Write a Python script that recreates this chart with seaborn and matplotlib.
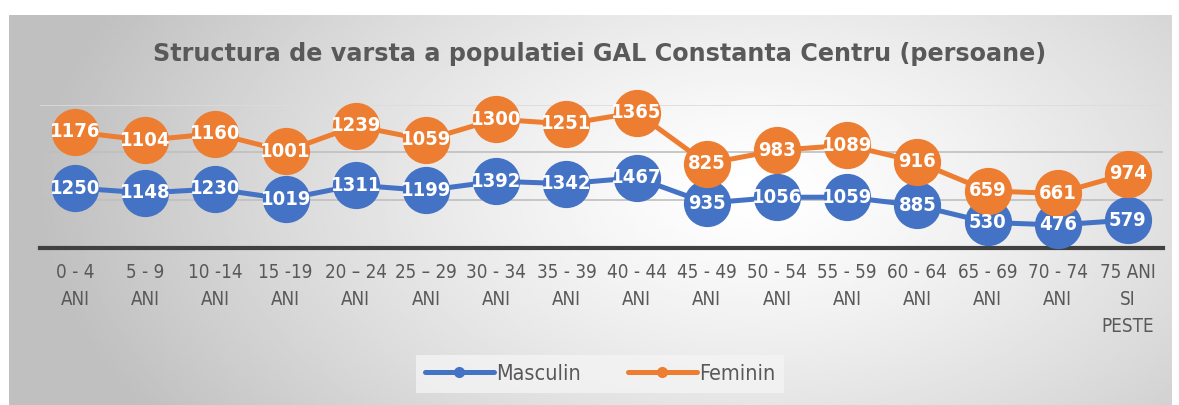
import numpy as np
import pandas as pd
import seaborn as sns
import matplotlib.pyplot as plt
from matplotlib.lines import Line2D

# ==============================
# DATA
# ==============================
age_groups = ["0 - 4\nANI", "5 - 9\nANI", "10 -14\nANI", "15 -19\nANI",
              "20 \u2013 24\nANI", "25 \u2013 29\nANI", "30 - 34\nANI",
              "35 - 39\nANI", "40 - 44\nANI", "45 - 49\nANI", "50 - 54\nANI",
              "55 - 59\nANI", "60 - 64\nANI", "65 - 69\nANI", "70 - 74\nANI",
              "75 ANI\nSI\nPESTE"]
masculin = [1250, 1148, 1230, 1019, 1311, 1199, 1392, 1342, 1467,
            935, 1056, 1059, 885, 530, 476, 579]
feminin = [1176, 1104, 1160, 1001, 1239, 1059, 1300, 1251, 1365,
           825, 983, 1089, 916, 659, 661, 974]

BLUE = "#4472C4"
ORANGE = "#ED7D31"
GREY_TXT = "#595959"

# stacked line chart: feminin drawn on top of masculin
df = pd.DataFrame({"pos": np.arange(len(age_groups)),
                   "Masculin": masculin,
                   "Feminin": feminin})
df["Feminin_stack"] = df["Masculin"] + df["Feminin"]

sns.set_style("white")
plt.rcParams["font.family"] = ["DejaVu Sans"]

fig = plt.figure(figsize=(11.79, 4.05), dpi=100)

# ==============================
# background: radial gradient
# ==============================
bg = fig.add_axes([9 / 1179, 0, (1172 - 9) / 1179, 390 / 405], zorder=0)
gx, gy = np.meshgrid(np.linspace(0, 1, 400), np.linspace(0, 1, 140))
r = np.sqrt(((gx - 0.64) / 0.62) ** 2 + ((gy - 0.55) / 1.1) ** 2)
shade = 1.0 - 0.25 * np.clip(r, 0, 1) ** 1.3
bg.imshow(shade, cmap="gray", vmin=0, vmax=1, aspect="auto",
          extent=[0, 1, 0, 1], origin="lower")
bg.axis("off")

# ==============================
# main chart
# ==============================
ax = fig.add_axes([40 / 1179, 1 - 247.7 / 405, 1123 / 1179, 143.2 / 405], zorder=2)
ax.patch.set_alpha(0)

for ycol, lab, col in [("Masculin", "Masculin", BLUE),
                       ("Feminin_stack", "Feminin", ORANGE)]:
    sns.lineplot(data=df, x="pos", y=ycol, ax=ax, color=col, linewidth=3.6,
                 marker="o", markersize=34, markeredgewidth=0, label=lab,
                 legend=False, clip_on=False, zorder=3)

for i, row in df.iterrows():
    ax.text(row["pos"], row["Masculin"], str(row["Masculin"]), color="white",
            fontsize=14.5, fontweight="bold", fontstretch="condensed",
            ha="center", va="center", zorder=5)
    ax.text(row["pos"], row["Feminin_stack"], str(row["Feminin"]), color="white",
            fontsize=14.5, fontweight="bold", fontstretch="condensed",
            ha="center", va="center", zorder=5)

ax.set_xlim(-0.5, len(age_groups) - 0.5)
ax.set_ylim(0, 3000)
ax.set_yticks([1000, 2000, 3000])
ax.set_yticklabels([])
ax.tick_params(axis="y", length=0)
ax.yaxis.grid(True, color="#bfbfbf", linewidth=1.2)
ax.get_ygridlines()[-1].set_color("#dcdcdc")
ax.set_axisbelow(True)
ax.set_xticks(df["pos"])
ax.set_xticklabels(age_groups, fontsize=13.5, color=GREY_TXT,
                   fontstretch="condensed", linespacing=1.53)
ax.tick_params(axis="x", length=0, pad=11)
ax.set_xlabel("")
ax.set_ylabel("")
for s in ["top", "right", "left"]:
    ax.spines[s].set_visible(False)
ax.spines["bottom"].set_color("#404040")
ax.spines["bottom"].set_linewidth(3)

fig.text(600 / 1179, 1 - 54 / 405,
         "Structura de varsta a populatiei GAL Constanta Centru (persoane)",
         ha="center", va="center", fontsize=17.2, fontweight="bold", color=GREY_TXT)

handles = [Line2D([], [], color=BLUE, lw=3.6, marker="o", markersize=7),
           Line2D([], [], color=ORANGE, lw=3.6, marker="o", markersize=7)]
leg = fig.legend(handles, ["Masculin", "Feminin"], loc="center",
                 bbox_to_anchor=(600 / 1179, 1 - 374 / 405), ncol=2,
                 frameon=True, fancybox=False, handlelength=3.2,
                 handletextpad=0.1, columnspacing=2.2,
                 prop={"size": 15.5, "stretch": "condensed"})
leg.get_frame().set_facecolor("#f4f4f4")
leg.get_frame().set_edgecolor("none")
for t in leg.get_texts():
    t.set_color(GREY_TXT)

fig.savefig("out.png", dpi=100, facecolor="white")
